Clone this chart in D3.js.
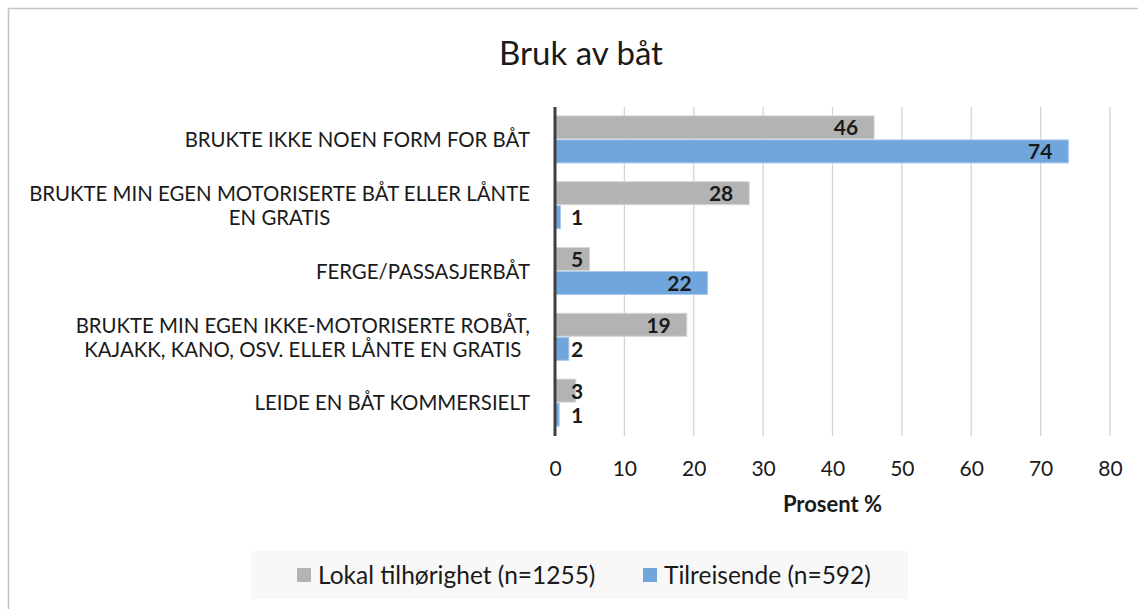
<!DOCTYPE html>
<html lang="no">
<head>
    <meta charset="UTF-8">
    <title>Bruk av båt</title>
    <script src="https://cdn.jsdelivr.net/npm/d3@7/dist/d3.min.js"></script>
    <style>
        html, body {
            margin: 0;
            padding: 0;
            background: #ffffff;
        }
        svg text {
            font-family: Lato, "Open Sans", sans-serif;
            fill: #1a1a1a;
        }
    </style>
</head>
<body>
<svg id="chart" width="1138" height="609"></svg>

<script>
    // data
    const categories = [
        "BRUKTE IKKE NOEN FORM FOR BÅT",
        "BRUKTE MIN EGEN MOTORISERTE BÅT ELLER LÅNTE\nEN GRATIS",
        "FERGE/PASSASJERBÅT",
        "BRUKTE MIN EGEN IKKE-MOTORISERTE ROBÅT,\nKAJAKK, KANO, OSV. ELLER LÅNTE EN GRATIS",
        "LEIDE EN BÅT KOMMERSIELT"
    ];
    const lokal = [46, 28, 5, 19, 3];
    const tilreisende = [74, 0.8, 22, 2, 0.6];
    const seriesNames = ["Lokal tilhørighet (n=1255)", "Tilreisende (n=592)"];
    const xTicks = [0, 10, 20, 30, 40, 50, 60, 70, 80];

    const colors = ["#b3b3b3", "#70a6db"];
    const strokes = ["#d6d6d6", "#a9cbee"];

    const svg = d3.select("#chart");

    // outer frame, runs off the right and bottom edges like the screenshot
    svg.append("rect")
        .attr("x", 8.5).attr("y", 8.5)
        .attr("width", 1200).attr("height", 700)
        .attr("fill", "none")
        .attr("stroke", "#c4c4c4")
        .attr("stroke-width", 1.5);

    const plotL = 555, plotR = 1110, plotT = 107, plotB = 436;

    const x = d3.scaleLinear().domain([0, 80]).range([plotL, plotR]);
    const y = d3.scaleBand().domain(categories).range([plotT, plotB])
        .paddingInner(0.27).paddingOuter(0.135);
    const ySub = d3.scaleBand().domain([0, 1]).range([0, y.bandwidth()]);

    // title
    svg.append("text")
        .attr("x", 581).attr("y", 65)
        .attr("text-anchor", "middle")
        .style("font-size", "33px")
        .text("Bruk av båt");

    // gridlines
    svg.append("g")
        .selectAll("line")
        .data(xTicks.slice(1))
        .enter()
        .append("line")
        .attr("x1", d => x(d)).attr("x2", d => x(d))
        .attr("y1", plotT).attr("y2", plotB)
        .attr("stroke", "#d4d4d4")
        .attr("stroke-width", 1.3);

    // tick labels
    const xAxis = svg.append("g")
        .attr("transform", `translate(0,${plotB})`)
        .call(d3.axisBottom(x).tickValues(xTicks).tickSize(0).tickPadding(25));
    xAxis.select(".domain").remove();
    xAxis.selectAll("text")
        .attr("fill", "#1a1a1a")
        .style("font-size", "21px")
        .style("font-family", "Lato, 'Open Sans', sans-serif");

    svg.append("text")
        .attr("x", (plotL + plotR) / 2).attr("y", 512)
        .attr("text-anchor", "middle")
        .style("font-size", "22px")
        .style("font-weight", "bold")
        .text("Prosent %");

    // bars
    const series = [lokal, tilreisende];
    series.forEach((vals, s) => {
        const g = svg.append("g");
        g.selectAll("rect")
            .data(vals)
            .enter()
            .append("rect")
            .attr("x", x(0))
            .attr("y", (d, i) => y(categories[i]) + ySub(s))
            .attr("width", d => x(d) - x(0))
            .attr("height", ySub.bandwidth() - 1)
            .attr("fill", colors[s])
            .attr("stroke", strokes[s])
            .attr("stroke-width", 1);

        g.selectAll("text")
            .data(vals)
            .enter()
            .append("text")
            .attr("y", (d, i) => y(categories[i]) + ySub(s) + ySub.bandwidth() / 2)
            .attr("dy", "0.36em")
            .style("font-size", "21px")
            .style("font-weight", "bold")
            .text(d => Math.round(d))
            .each(function (d) {
                const w = this.getComputedTextLength();
                const lx = Math.max(x(d) - 16 - w, x(0) + 16);
                d3.select(this).attr("x", lx);
            });
    });

    // axis line
    svg.append("line")
        .attr("x1", x(0)).attr("x2", x(0))
        .attr("y1", plotT).attr("y2", plotB)
        .attr("stroke", "#3f3f3f")
        .attr("stroke-width", 3);

    // category labels, wrapped lines centred inside a right aligned block
    const labelRight = 530;
    const lineH = 24;
    categories.forEach(c => {
        const lines = c.split("\n");
        const t = svg.append("text")
            .attr("text-anchor", "middle")
            .style("font-size", "20.4px");
        const cy = y(c) + y.bandwidth() / 2;
        lines.forEach((ln, i) => {
            t.append("tspan")
                .attr("y", cy + (i - (lines.length - 1) / 2) * lineH)
                .attr("dy", "0.36em")
                .text(ln);
        });
        const maxW = d3.max(t.selectAll("tspan").nodes(), n => n.getComputedTextLength());
        t.selectAll("tspan").attr("x", labelRight - maxW / 2);
    });

    // legend
    const legend = svg.append("g");
    legend.append("rect")
        .attr("x", 251).attr("y", 551)
        .attr("width", 657).attr("height", 48)
        .attr("fill", "#f8f8f8");
    const legX = [297, 643];
    seriesNames.forEach((name, s) => {
        legend.append("rect")
            .attr("x", legX[s]).attr("y", 568)
            .attr("width", 14).attr("height", 14)
            .attr("fill", colors[s]);
        legend.append("text")
            .attr("x", legX[s] + 21).attr("y", 575)
            .attr("dy", "0.36em")
            .style("font-size", "24.5px")
            .text(name);
    });
</script>
</body>
</html>
